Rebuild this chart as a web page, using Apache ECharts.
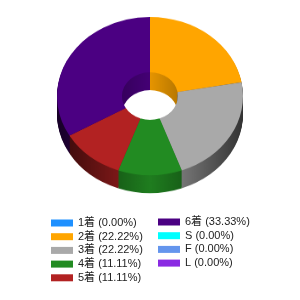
<!DOCTYPE html>
<html><head><meta charset="utf-8">
<script src="https://cdn.jsdelivr.net/npm/echarts@6/dist/echarts.min.js"></script>
<style>
html,body{margin:0;padding:0;background:#fff;width:300px;height:300px;overflow:hidden;}
#pie{position:absolute;left:0;top:0;width:300px;height:235px;transform:scaleY(0.85);transform-origin:0 0;}
#leg{position:absolute;left:0;top:200px;width:300px;height:100px;}
</style></head><body>
<div id="pie"></div><div id="leg"></div>
<script>
const categories = ['1着','2着','3着','4着','5着','6着','S','F','L'];
const counts = [0,2,2,1,1,3,0,0,0];
const colors = ['#1e90ff','#ffa500','#a9a9a9','#228b22','#b22222','#4b0082','#00ffff','#6495ed','#8a2be2'];
const legendCol1 = ['1着','2着','3着','4着','5着'];
const legendCol2 = ['6着','S','F','L'];

function shade(hex, f){
  const n = parseInt(hex.slice(1),16);
  const r = Math.round(((n>>16)&255)*f), g = Math.round(((n>>8)&255)*f), b = Math.round((n&255)*f);
  return 'rgb('+r+','+g+','+b+')';
}
const CX = 150, CY = 113, R0 = 28, R1 = 93, DEPTH = 21;

const series = [];
for (let k = DEPTH; k >= 1; k--) {
  series.push({
    type:'pie', silent:true, animation:false, clockwise:true, startAngle:90,
    center:[CX, CY + k], radius:[R0, R1], label:{show:false}, labelLine:{show:false},
    data: categories.map((n,i)=>({name:n, value:counts[i], itemStyle:{color:{
      type:'linear', x:CX-R1, y:0, x2:CX+R1, y2:0, global:true,
      colorStops:[{offset:0,color:shade(colors[i],0.3)},{offset:0.5,color:shade(colors[i],0.9)},{offset:1,color:shade(colors[i],0.3)}]
    }}}))
  });
}
series.push({
  type:'pie', silent:true, animation:false, clockwise:true, startAngle:90,
  center:[CX, CY], radius:[R0, R1], label:{show:false}, labelLine:{show:false},
  data: categories.map((n,i)=>({name:n, value:counts[i], itemStyle:{color:colors[i]}}))
});
const pie = echarts.init(document.getElementById('pie'));
pie.setOption({animation:false, series});

const total = counts.reduce((a,b)=>a+b,0);
function fmt(name){
  const v = counts[categories.indexOf(name)];
  return name + ' (' + (v/total*100).toFixed(2) + '%)';
}
const legStyle = {
  orient:'vertical', icon:'rect', itemWidth:22, itemHeight:7, itemGap:1.7,
  selectedMode:false, formatter:fmt,
  textStyle:{fontSize:11, lineHeight:12, color:'#222', fontFamily:'Arial, "Liberation Sans", "Noto Sans CJK JP", sans-serif'}
};
const leg = echarts.init(document.getElementById('leg'));
leg.setOption({
  animation:false,
  color: colors,
  legend:[
    Object.assign({data:legendCol1, left:46, top:12}, legStyle),
    Object.assign({data:legendCol2, left:153, top:11}, legStyle)
  ],
  series:[{type:'pie', silent:true, center:[-200,-200], radius:[0,1], label:{show:false},
    data: categories.map((n,i)=>({name:n, value:counts[i]}))}]
});
</script></body></html>
